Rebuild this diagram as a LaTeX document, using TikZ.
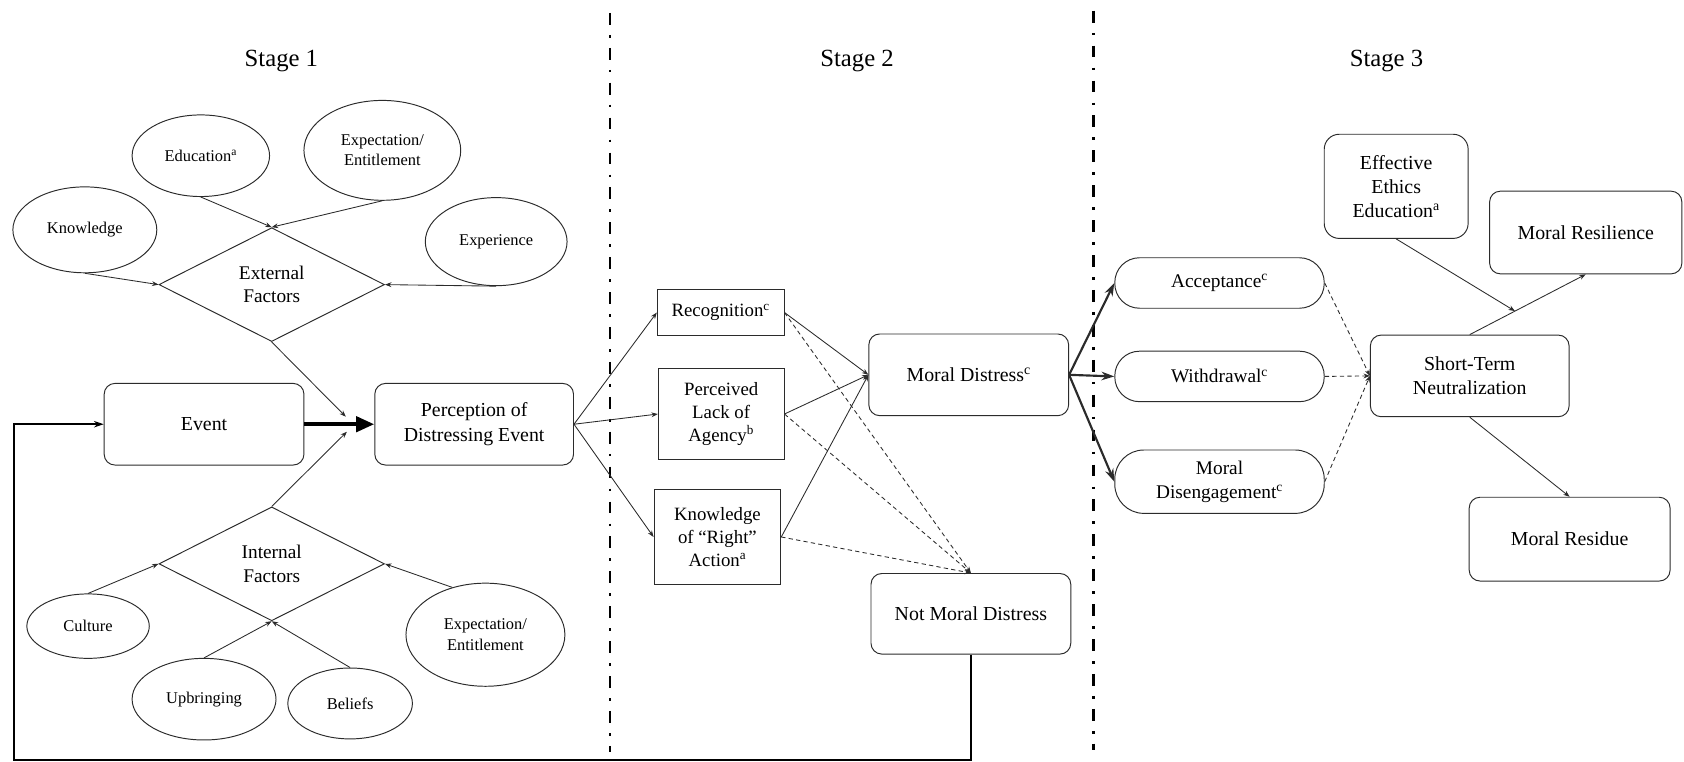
\documentclass[tikz,border=0pt]{standalone}
\usepackage{fontspec}
\setmainfont{Liberation Serif}
\usetikzlibrary{shapes.geometric,arrows.meta,calc}
\definecolor{ink}{HTML}{2B2B2B}
\tikzset{
  base/.style={draw=ink, line width=0.9pt, align=center, inner sep=0pt, text=black},
  ell/.style={base, ellipse, font=\fontsize{15.3}{19}\selectfont},
  dia/.style={base, diamond, aspect=2, minimum width=210pt, minimum height=106pt,
              font=\fontsize{18}{21.5}\selectfont},
  rbox/.style={base, rectangle, rounded corners=10pt, font=\fontsize{18.5}{22.5}\selectfont},
  sbox/.style={base, rectangle, font=\fontsize{17.5}{21.5}\selectfont},
  pill/.style={base, rectangle, rounded corners=23pt, font=\fontsize{18}{22}\selectfont},
  link/.style={draw=ink, line width=0.8pt, -{Stealth[length=6pt,width=4.5pt]}},
  dlink/.style={link, dash pattern=on 4pt off 3pt},
  heavy/.style={draw=ink, line width=2pt, -{Stealth[length=12pt,width=8pt]}},
  bigarrow/.style={draw=black, line width=4pt, -{Triangle[length=17pt,width=14pt]}},
  backloop/.style={draw=black, line width=2pt, -{Stealth[length=9pt,width=6pt]}},
  divider/.style={draw=black, line width=2.6pt, dash pattern=on 11pt off 9.5pt on 2.5pt off 9.5pt},
  stage/.style={font=\fontsize{23}{27}\selectfont},
}
\begin{document}
\begin{tikzpicture}[x=1pt,y=-1pt]
\useasboundingbox (0,0) rectangle (1568,709);

% stage headings and separators
\node[stage] (s1) at (262,57) {Stage 1};
\node[stage] (s2) at (798,57) {Stage 2};
\node[stage] (s3) at (1291,57) {Stage 3};
\draw[divider] (568,12) -- (568,700);
\draw[divider] (1018,10) -- (1018,698);

% ---------- Stage 1 ----------
\node[ell, minimum width=134pt, minimum height=80pt] (know) at (79,214) {Knowledge};
\node[ell, minimum width=128pt, minimum height=76pt] (edu) at (187,145) {Education\textsuperscript{a}};
\node[ell, minimum width=146pt, minimum height=93pt] (expT) at (356,140) {Expectation/\\Entitlement};
\node[ell, minimum width=132pt, minimum height=82pt] (expr) at (462,225) {Experience};
\node[dia] (ext) at (253,265) {External\\Factors};

\node[rbox, minimum width=186pt, minimum height=76pt] (event) at (190,395) {Event};
\node[rbox, minimum width=185pt, minimum height=76pt] (perc) at (441.5,395) {Perception of\\Distressing Event};

\node[dia] (int) at (253,525) {Internal\\Factors};
\node[ell, minimum width=114pt, minimum height=60pt] (cult) at (82,583) {Culture};
\node[ell, minimum width=134pt, minimum height=76pt] (upb) at (190,651) {Upbringing};
\node[ell, minimum width=116pt, minimum height=66pt] (bel) at (326,655) {Beliefs};
\node[ell, minimum width=148pt, minimum height=96pt] (expL) at (452,591) {Expectation/\\Entitlement};

\coordinate (inA) at (322,388);
\coordinate (inB) at (323,402);

\draw[link] (know.south) -- (ext.west);
\draw[link] (edu.south) -- (ext.north);
\draw[link] (expT.south) -- (ext.north);
\draw[link] (expr.south) -- (ext.east);
\draw[link] (ext.south) -- (inA);
\draw[link] (int.north) -- (inB);
\draw[link] (cult.north) -- (int.west);
\draw[link] (expL.125) -- (int.east);
\draw[link] (upb.north) -- (int.south);
\draw[link] (bel.north) -- (int.south);
\draw[bigarrow] (event.east) -- (perc.west);

% ---------- Stage 2 ----------
\node[sbox, minimum width=118pt, minimum height=42pt] (recog) at (671,291) {Recognition\textsuperscript{c}};
\node[sbox, minimum width=117pt, minimum height=85pt] (lack) at (671.5,385.5) {Perceived\\Lack of\\Agency\textsuperscript{b}};
\node[sbox, minimum width=118pt, minimum height=88pt] (right) at (668,500) {Knowledge\\of “Right”\\Action\textsuperscript{a}};
\node[rbox, minimum width=186pt, minimum height=76pt] (md) at (902,349) {Moral Distress\textsuperscript{c}};
\node[rbox, minimum width=186pt, minimum height=75pt] (nmd) at (904,571.5) {Not Moral Distress};

\draw[link] (perc.east) -- (recog.west);
\draw[link] (perc.east) -- (lack.west);
\draw[link] (perc.east) -- (right.west);
\draw[link] (recog.east) -- (md.west);
\draw[link] (lack.east) -- (md.west);
\draw[link] (right.east) -- (md.west);
\draw[dlink] (recog.east) -- (nmd.north);
\draw[dlink] (lack.east) -- (nmd.north);
\draw[dlink] (right.east) -- (nmd.north);

% feedback from "not moral distress" back to a new event
\coordinate (loopcorner) at (13,707.5);
\draw[backloop] (nmd.south) |- (loopcorner) |- (event.west);

% ---------- Stage 3 ----------
\node[pill, minimum width=195pt, minimum height=47pt] (acc) at (1135.5,263.5) {Acceptance\textsuperscript{c}};
\node[pill, minimum width=195pt, minimum height=47pt] (wd) at (1135.5,350.5) {Withdrawal\textsuperscript{c}};
\node[pill, minimum width=195pt, minimum height=59pt, rounded corners=27pt] (dis) at (1135.5,448.5) {Moral\\Disengagement\textsuperscript{c}};
\node[rbox, minimum width=185pt, minimum height=76pt] (stn) at (1368.5,350) {Short-Term\\Neutralization};
\node[rbox, minimum width=134pt, minimum height=97pt, rounded corners=14pt] (eee) at (1300,173.5) {Effective\\Ethics\\Education\textsuperscript{a}};
\node[rbox, minimum width=179pt, minimum height=77pt] (res) at (1476.5,216.5) {Moral Resilience};
\node[rbox, minimum width=187pt, minimum height=78pt] (resid) at (1461.5,502) {Moral Residue};

\draw[heavy] (md.east) -- (acc.west);
\draw[heavy] (md.east) -- (wd.west);
\draw[heavy] (md.east) -- (dis.west);
\draw[dlink] (acc.east) -- (stn.west);
\draw[dlink] (wd.east) -- (stn.west);
\draw[dlink] (dis.east) -- (stn.west);
\draw[link] (stn.north) -- (res.south);
\coordinate (edupoint) at ($(stn.north)!0.39!(res.south)$);
\draw[link] (eee.south) -- (edupoint);
\draw[link] (stn.south) -- (resid.north);
\end{tikzpicture}
\end{document}
